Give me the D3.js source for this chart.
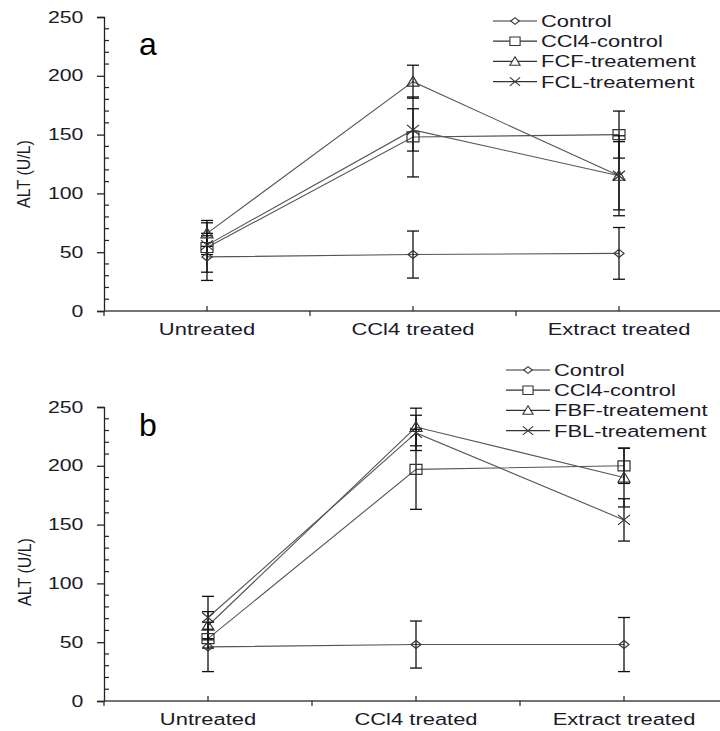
<!DOCTYPE html>
<html>
<head>
<meta charset="utf-8">
<script src="https://cdn.jsdelivr.net/npm/d3@7"></script>
<style>
  html, body { margin: 0; padding: 0; background: #fff; }
  svg { display: block; font-family: "Liberation Sans", Arial, sans-serif; }
</style>
</head>
<body>
<svg id="chart" width="720" height="731"></svg>
<script>
// Chart values
const categories = ["Untreated", "CCl4 treated", "Extract treated"];
const yTicks = [0, 50, 100, 150, 200, 250];

const seriesA = ["Control", "CCl4-control", "FCF-treatement", "FCL-treatement"];
const meansA = [[46, 48, 49], [54, 148, 150], [66, 195, 115], [56, 154, 115]];
const errorsA = [[20, 20, 22], [21, 34, 20], [11, 14, 29], [8, 18, 34]];

const seriesB = ["Control", "CCl4-control", "FBF-treatement", "FBL-treatement"];
const meansB = [[46, 48, 48], [53, 197, 200], [64, 233, 190], [71, 228, 154]];
const errorsB = [[21, 20, 23], [8, 34, 15], [12, 16, 25], [18, 15, 18]];

const markers = ["diamond", "square", "triangle", "cross"];

// the source figure is stretched sideways, so text gets a horizontal scale
const stretch = 1.33;
const textColor = "#1a1a2a";

const svg = d3.select("#chart");

// Marker shapes, centred on 0,0
function markerPath(type) {
    if (type === "diamond") return "M0,-4L5,0L0,4L-5,0Z";
    if (type === "square") return "M-6,-5H6V5H-6Z";
    if (type === "triangle") return "M0,-5.5L6,4.5H-6Z";
    return "M-6,-5L6,5M6,-5L-6,5";
}

function drawPanel(opts) {
    const g = svg.append("g");
    const x = d3.scaleBand().domain(categories).range([opts.left, opts.right]).padding(0);
    const y = d3.scaleLinear().domain([0, 250]).range([opts.bottom, opts.top]);
    const cx = c => x(c) + x.bandwidth() / 2;

    // y axis: outward major ticks, inward minor ticks
    const yAxis = g.append("g").attr("transform", `translate(${opts.left},0)`)
        .call(d3.axisLeft(y).tickValues(yTicks).tickSize(7));
    yAxis.select(".domain").attr("stroke", "#222").attr("stroke-width", 1.3);
    yAxis.selectAll(".tick line").attr("stroke", "#222").attr("stroke-width", 1.3);
    yAxis.selectAll("text")
        .attr("x", -15.5)
        .attr("transform", `scale(${stretch},1)`)
        .attr("font-size", 16).attr("font-family", "Liberation Sans, Arial, sans-serif")
        .attr("fill", textColor);

    const minor = d3.range(0, 251, 10).filter(v => v % 50 !== 0);
    g.append("g").selectAll("line").data(minor).join("line")
        .attr("x1", opts.left).attr("x2", opts.left + 5)
        .attr("y1", d => y(d)).attr("y2", d => y(d))
        .attr("stroke", "#222").attr("stroke-width", 1.2);

    // x axis
    g.append("line")
        .attr("x1", opts.left).attr("x2", opts.right)
        .attr("y1", opts.bottom).attr("y2", opts.bottom)
        .attr("stroke", "#444").attr("stroke-width", 1.6);
    g.append("g").selectAll("line").data(categories).join("line")
        .attr("x1", d => cx(d)).attr("x2", d => cx(d))
        .attr("y1", opts.bottom).attr("y2", opts.bottom - 5)
        .attr("stroke", "#222").attr("stroke-width", 1.2);
    const edges = categories.map(c => x(c));
    g.append("g").selectAll("line").data(edges).join("line")
        .attr("x1", d => d).attr("x2", d => d)
        .attr("y1", opts.bottom).attr("y2", opts.bottom + 5)
        .attr("stroke", "#222").attr("stroke-width", 1.2);
    g.append("g").selectAll("text").data(categories).join("text")
        .attr("transform", d => `translate(${cx(d)},${opts.bottom + 24}) scale(${stretch},1)`)
        .attr("text-anchor", "middle").attr("font-size", 16.5)
        .attr("fill", textColor).text(d => d);

    // y title
    g.append("text")
        .attr("transform", `translate(${opts.titleX},${opts.titleY}) scale(1.12,1) rotate(-90)`)
        .attr("text-anchor", "middle").attr("dy", "0.35em").attr("font-size", 16)
        .attr("fill", textColor).text("ALT (U/L)");

    // panel letter
    g.append("text").attr("x", 139).attr("y", opts.letterY)
        .attr("font-size", 32).attr("fill", "#000").text(opts.letter);

    // series lines
    const line = d3.line().x((d, i) => cx(categories[i])).y(d => y(d));
    g.append("g").selectAll("path").data(opts.means).join("path")
        .attr("d", d => line(d)).attr("fill", "none")
        .attr("stroke", "#555").attr("stroke-width", 1.1);

    // error bars
    const bars = [];
    opts.means.forEach((row, s) => row.forEach((m, i) => {
        bars.push({ x: cx(categories[i]), lo: m - opts.errors[s][i], hi: m + opts.errors[s][i] });
    }));
    const eb = g.append("g").attr("stroke", "#111").attr("stroke-width", 1.3);
    eb.selectAll("line.v").data(bars).join("line").attr("class", "v")
        .attr("x1", d => d.x).attr("x2", d => d.x)
        .attr("y1", d => y(d.lo)).attr("y2", d => y(d.hi));
    eb.selectAll("line.lo").data(bars).join("line").attr("class", "lo")
        .attr("x1", d => d.x - 6).attr("x2", d => d.x + 6)
        .attr("y1", d => y(d.lo)).attr("y2", d => y(d.lo));
    eb.selectAll("line.hi").data(bars).join("line").attr("class", "hi")
        .attr("x1", d => d.x - 6).attr("x2", d => d.x + 6)
        .attr("y1", d => y(d.hi)).attr("y2", d => y(d.hi));

    // markers
    opts.means.forEach((row, s) => {
        g.append("g").selectAll("path").data(row).join("path")
            .attr("transform", (d, i) => `translate(${cx(categories[i])},${y(d)})`)
            .attr("d", markerPath(markers[s]))
            .attr("fill", "none").attr("stroke", "#333").attr("stroke-width", 1.2);
    });

    // legend
    const lg = g.append("g").attr("transform", `translate(${opts.legendX},${opts.legendY})`);
    const item = lg.selectAll("g").data(opts.series).join("g")
        .attr("transform", (d, i) => `translate(0,${i * 20.2})`);
    item.append("line").attr("x1", 0).attr("x2", 44).attr("y1", 0).attr("y2", 0)
        .attr("stroke", "#333").attr("stroke-width", 1.2);
    item.append("path").attr("transform", "translate(22,0) scale(0.85)")
        .attr("d", (d, i) => markerPath(markers[i]))
        .attr("fill", "#fff").attr("stroke", "#333").attr("stroke-width", 1.3);
    item.append("text").attr("transform", `translate(48,6) scale(${stretch},1)`)
        .attr("font-size", 16.5).attr("fill", textColor).text(d => d);
}

drawPanel({ letter: "a", series: seriesA, means: meansA, errors: errorsA,
    left: 104, right: 722, top: 17, bottom: 311, legendX: 493, legendY: 21,
    titleX: 24, titleY: 174, letterY: 55 });
drawPanel({ letter: "b", series: seriesB, means: meansB, errors: errorsB,
    left: 104, right: 728, top: 407, bottom: 701, legendX: 506, legendY: 370,
    titleX: 25, titleY: 572, letterY: 436 });
</script>
</body>
</html>
